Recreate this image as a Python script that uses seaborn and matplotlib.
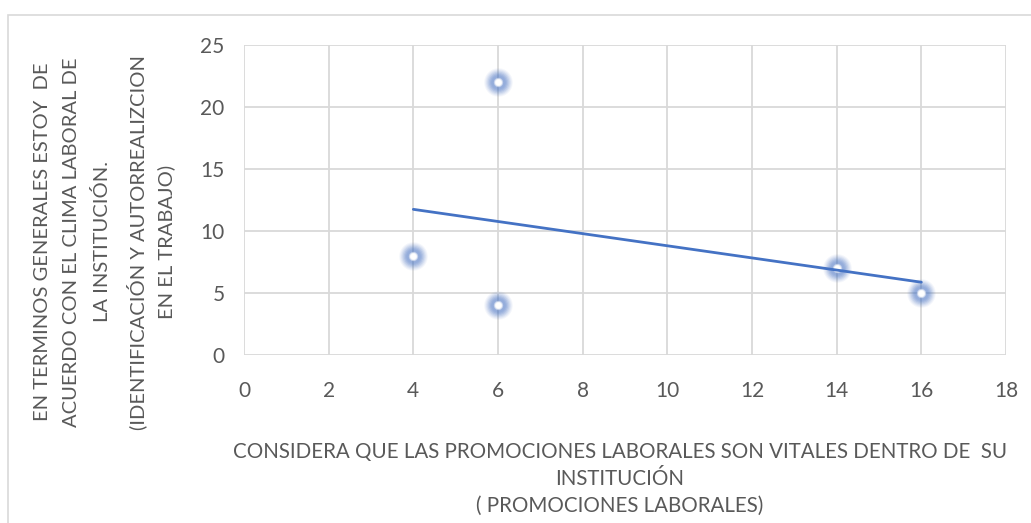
import matplotlib
matplotlib.use("Agg")
import matplotlib.pyplot as plt
import seaborn as sns
import pandas as pd
from matplotlib.patches import Rectangle

# Survey responses: promotions score vs. agreement with workplace climate
promociones = [4, 6, 6, 14, 16]
clima = [8, 22, 4, 7, 5]

x_ticks = [0, 2, 4, 6, 8, 10, 12, 14, 16, 18]
y_ticks = [0, 5, 10, 15, 20, 25]

y_label_lines = [
    "EN TERMINOS GENERALES ESTOY  DE",
    "ACUERDO CON EL CLIMA LABORAL DE",
    "LA INSTITUCIÓN.",
    "(IDENTIFICACIÓN Y AUTORREALIZCION",
    "EN EL TRABAJO)",
]
x_label_lines = [
    "CONSIDERA QUE LAS PROMOCIONES LABORALES SON VITALES DENTRO DE  SU",
    "INSTITUCIÓN",
    "( PROMOCIONES LABORALES)",
]

df = pd.DataFrame({"promociones": promociones, "clima": clima})

sns.set_theme(style="white")
plt.rcParams["font.family"] = ["Lato", "DejaVu Sans"]

BLUE = "#4472C4"
TEXT = "#595959"
GRID = "#D9D9D9"

W, H = 1031, 523
fig = plt.figure(figsize=(W / 100, H / 100), dpi=100)
fig.patch.set_facecolor("white")

# chart-area frame
fig.patches.append(Rectangle((8 / W, -0.05), 1.2, 1 - 15 / H + 0.05,
                             transform=fig.transFigure, fill=False,
                             edgecolor=GRID, linewidth=1.2))

ax = fig.add_axes([244 / W, 1 - 355 / H, (1006 - 244) / W, (355 - 45) / H])
ax.set_xlim(0, 18)
ax.set_ylim(0, 25)
ax.set_xticks(x_ticks)
ax.set_yticks(y_ticks)
ax.grid(True, color=GRID, linewidth=1.3)
ax.set_axisbelow(True)
for sp in ax.spines.values():
    sp.set_visible(False)
ax.tick_params(axis="both", length=0, labelsize=15, labelcolor=TEXT)
ax.tick_params(axis="y", pad=14)
ax.tick_params(axis="x", pad=19)

# soft glowing ring markers built from stacked layers
for size, alpha in [(420, 0.06), (360, 0.08), (300, 0.10), (245, 0.12),
                    (195, 0.14), (150, 0.14), (110, 0.12)]:
    sns.scatterplot(data=df, x="promociones", y="clima", ax=ax, s=size,
                    color=BLUE, alpha=alpha, linewidth=0, zorder=3, legend=False)
for size, alpha in [(45, 0.45), (28, 0.8), (16, 1.0)]:
    sns.scatterplot(data=df, x="promociones", y="clima", ax=ax, s=size,
                    color="white", alpha=alpha, linewidth=0, zorder=4, legend=False)

# linear trend line over the data range
sns.regplot(data=df, x="promociones", y="clima", ax=ax, scatter=False,
            ci=None, truncate=True, color=BLUE,
            line_kws={"linewidth": 2.0, "zorder": 5})
ax.set_xlim(0, 18)
ax.set_ylim(0, 25)
ax.set_xlabel("")
ax.set_ylabel("")

# rotated y-axis title, one column per line
y_cols = [43, 72, 102, 137, 166]
for xp, line in zip(y_cols, y_label_lines):
    fig.text(xp / W, 1 - 242 / H, line, rotation=90, ha="center", va="center",
             fontsize=14.5, color=TEXT)

# x-axis title
x_rows = [452, 479, 506]
for yp, line in zip(x_rows, x_label_lines):
    fig.text(620 / W, 1 - yp / H, line, ha="center", va="center",
             fontsize=14.8, color=TEXT)

fig.savefig("out.png", dpi=100, facecolor="white")
